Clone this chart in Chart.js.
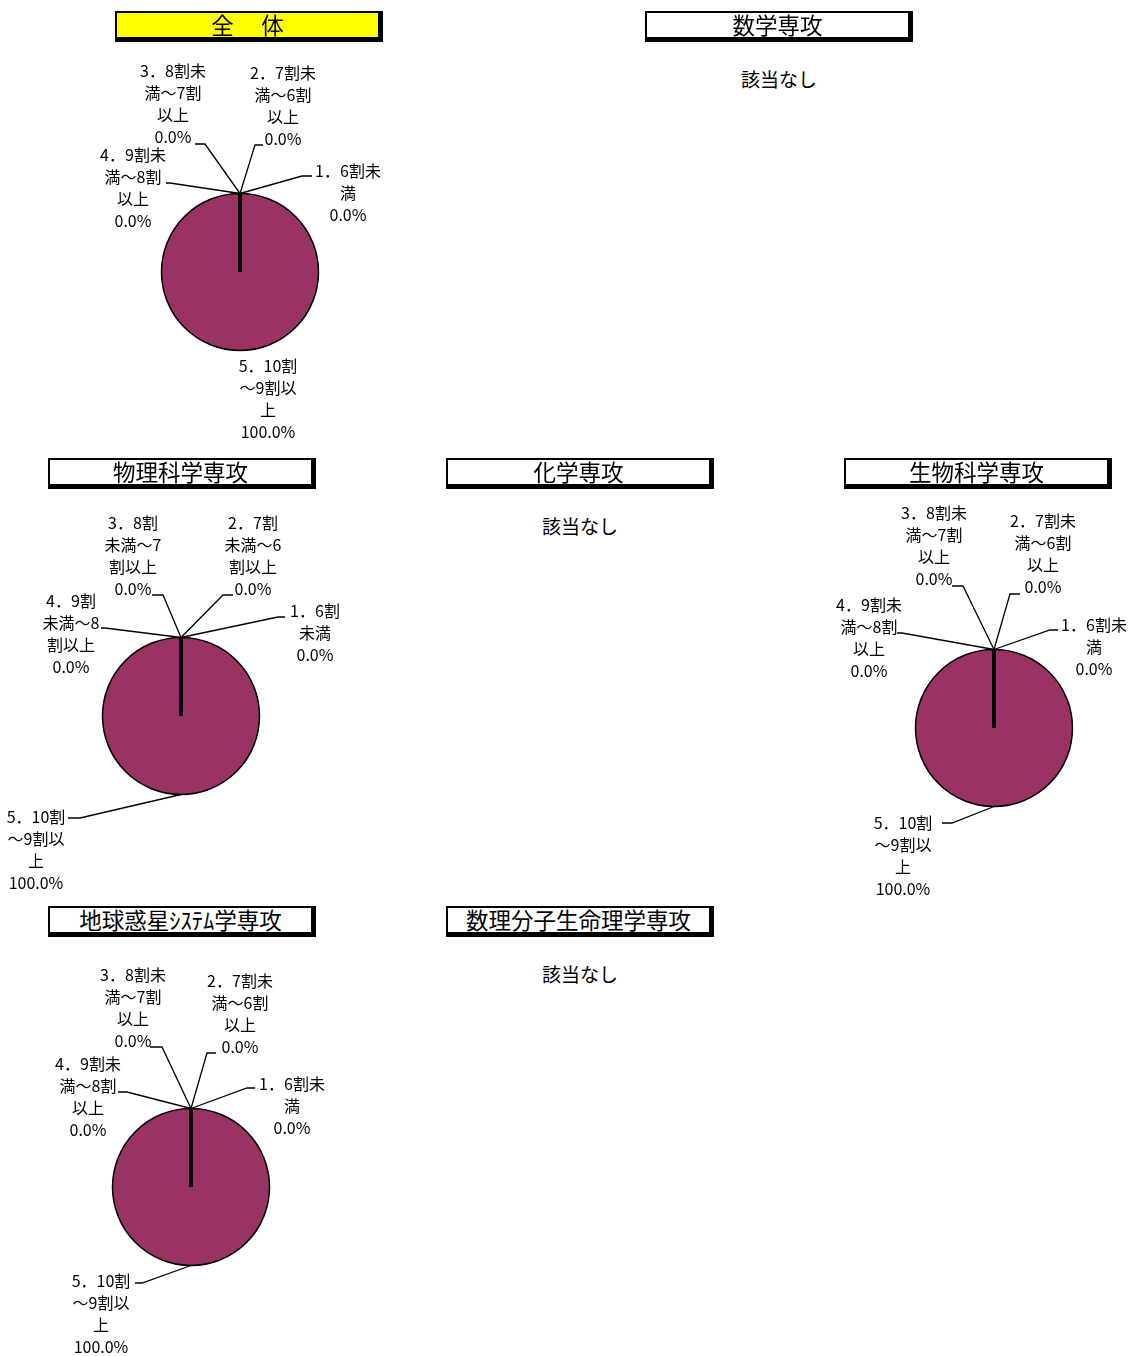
<!DOCTYPE html>
<html><head><meta charset="utf-8">
<script src="https://cdn.jsdelivr.net/npm/chart.js@4.4.0/dist/chart.umd.min.js"></script>
<style>
body{margin:0;width:1131px;height:1356px;overflow:hidden;background:#fff;position:relative;font-family:"Noto Sans CJK JP","Noto Sans CJK SC",sans-serif;}
.ttl{position:absolute;box-sizing:border-box;border-style:solid;border-color:#000;border-width:2px 5px 5px 2px;background:#fff;text-align:center;font-size:22.5px;line-height:22px;height:31px;width:268px;color:#000;white-space:nowrap;z-index:2;overflow:visible;}
.na{position:absolute;font-size:19px;line-height:24px;width:268px;text-align:center;color:#000;}
canvas{position:absolute;z-index:1;}
</style></head><body>
<script>
// ---- data ----
const categories = ['1．6割未満','2．7割未満～6割以上','3．8割未満～7割以上','4．9割未満～8割以上','5．10割～9割以上'];
const panelTitles = ['全　 体','数学専攻','物理科学専攻','化学専攻','生物科学専攻','地球惑星ｼｽﾃﾑ学専攻','数理分子生命理学専攻'];
const valuesAll   = [0,0,0,0,100];
const valuesMath  = null;
const valuesPhys  = [0,0,0,0,100];
const valuesChem  = null;
const valuesBio   = [0,0,0,0,100];
const valuesEarth = [0,0,0,0,100];
const valuesMol   = null;
const noDataText = '該当なし';

// ---- layout ----
const wrapA = [[5,1],[5,4,2],[5,4,2],[5,4,2],[5,4,1]];
const wrapB = [[4,2],[4,4,3],[4,4,3],[4,4,3],[5,4,1]];
function wrap(str, counts){ const out=[]; let p=0; for(const c of counts){ out.push(str.slice(p,p+c)); p+=c; } if(p<str.length) out.push(str.slice(p)); return out; }

const panels = [
  {title:panelTitles[0], values:valuesAll, box:[115,11], bg:'#ffff00', center:[240,272], wrap:wrapA,
   lab:[{tx:108,ty:-101,ex:62,ey:-96,hx:72},{tx:43,ty:-199,ex:15,ey:-127,hx:23},{tx:-67,ty:-201,ex:-35,ey:-128,hx:-45},{tx:-107,ty:-117,ex:-70,ey:-89,hx:-74},{tx:28,ty:94}]},
  {title:panelTitles[1], values:valuesMath, box:[645,11]},
  {title:panelTitles[2], values:valuesPhys, box:[48,458], center:[181,716], wrap:wrapB,
   lab:[{tx:134,ty:-105,ex:97,ey:-99,hx:104},{tx:72,ty:-193,ex:42,ey:-121,hx:52},{tx:-48,ty:-193,ex:-18,ey:-121,hx:-29},{tx:-110,ty:-115,ex:-76,ey:-88,hx:-80},{tx:-145,ty:101,ex:-101,ey:102,hx:-113}]},
  {title:panelTitles[3], values:valuesChem, box:[446,458]},
  {title:panelTitles[4], values:valuesBio, box:[844,458], center:[994,728], wrap:wrapA,
   lab:[{tx:100,ty:-103,ex:56,ey:-98,hx:64},{tx:49,ty:-207,ex:16,ey:-134,hx:26},{tx:-60,ty:-215,ex:-31,ey:-142,hx:-42},{tx:-125,ty:-123,ex:-92,ey:-95,hx:-97},{tx:-91,ty:95,ex:-42,ey:95,hx:-52}]},
  {title:panelTitles[5], values:valuesEarth, box:[48,906], center:[191,1187], wrap:wrapA,
   lab:[{tx:101,ty:-103,ex:56,ey:-99,hx:64},{tx:49,ty:-206,ex:16,ey:-134,hx:25},{tx:-58,ty:-212,ex:-29,ey:-140,hx:-41},{tx:-103,ty:-123,ex:-64,ey:-95,hx:-73},{tx:-90,ty:94,ex:-49,ey:96,hx:-56}]},
  {title:panelTitles[6], values:valuesMol, box:[446,906]}
];

const R = 78.5, BW = 1.5;
const CW = 480, CH = 430, OX = 240, OY = 245;

function makeLabelPlugin(panel){
  return {
    id:'pieLabels',
    afterDatasetsDraw(chart){
      const ctx = chart.ctx;
      const meta = chart.getDatasetMeta(0);
      const ds = chart.data.datasets[0];
      const total = ds.data.reduce((a,b)=>a+b,0);
      ctx.save();
      ctx.strokeStyle = '#000';
      meta.data.forEach((arc,i)=>{
        const p = arc.getProps(['x','y','startAngle','endAngle','outerRadius']);
        if(ds.data[i] === 0){
          ctx.lineWidth = 3;
          ctx.beginPath();
          ctx.moveTo(p.x, p.y);
          ctx.lineTo(p.x + Math.cos(p.startAngle)*p.outerRadius, p.y + Math.sin(p.startAngle)*p.outerRadius);
          ctx.stroke();
        }
      });
      meta.data.forEach((arc,i)=>{
        const p = arc.getProps(['x','y','startAngle','endAngle','outerRadius']);
        const mid = (p.startAngle + p.endAngle)/2;
        const sx = p.x + Math.cos(mid)*p.outerRadius, sy = p.y + Math.sin(mid)*p.outerRadius;
        const L = panel.lab[i];
        if(L.ex !== undefined){
          ctx.lineWidth = 1.3;
          ctx.beginPath();
          ctx.moveTo(sx, sy);
          ctx.lineTo(p.x + L.ex, p.y + L.ey);
          ctx.lineTo(p.x + L.hx, p.y + L.ey);
          ctx.stroke();
        }
        const lines = wrap(chart.data.labels[i], panel.wrap[i]).concat([(ds.data[i]/total*100).toFixed(1) + '%']);
        ctx.font = '16px "Noto Sans CJK JP"';
        ctx.fillStyle = '#000';
        ctx.textAlign = 'center';
        ctx.textBaseline = 'middle';
        lines.forEach((t,k)=>ctx.fillText(t, p.x + L.tx, p.y + L.ty + k*22));
      });
      ctx.restore();
    }
  };
}

panels.forEach(panel=>{
  const t = document.createElement('div');
  t.className = 'ttl';
  t.style.left = panel.box[0] + 'px';
  t.style.top = panel.box[1] + 'px';
  t.style.background = panel.bg || '#fff';
  t.textContent = panel.title;
  document.body.appendChild(t);

  if(!panel.values){
    const n = document.createElement('div');
    n.className = 'na';
    n.style.left = panel.box[0] + 'px';
    n.style.top = (panel.box[1] + 56) + 'px';
    n.textContent = noDataText;
    document.body.appendChild(n);
    return;
  }
  const cv = document.createElement('canvas');
  cv.width = CW; cv.height = CH;
  cv.style.left = (panel.center[0] - OX) + 'px';
  cv.style.top = (panel.center[1] - OY) + 'px';
  cv.style.width = CW + 'px'; cv.style.height = CH + 'px';
  document.body.appendChild(cv);
  const s = 2*R + BW;
  new Chart(cv, {
    type:'pie',
    data:{labels:categories, datasets:[{data:panel.values, backgroundColor:'#993366', borderColor:'#000', borderWidth:BW, hoverOffset:0}]},
    options:{
      responsive:false, animation:false, devicePixelRatio:1,
      layout:{padding:{left:OX - s/2, right:CW - OX - s/2, top:OY - s/2, bottom:CH - OY - s/2}},
      plugins:{legend:{display:false}, tooltip:{enabled:false}},
      events:[]
    },
    plugins:[makeLabelPlugin(panel)]
  });
});
</script>
</body></html>
